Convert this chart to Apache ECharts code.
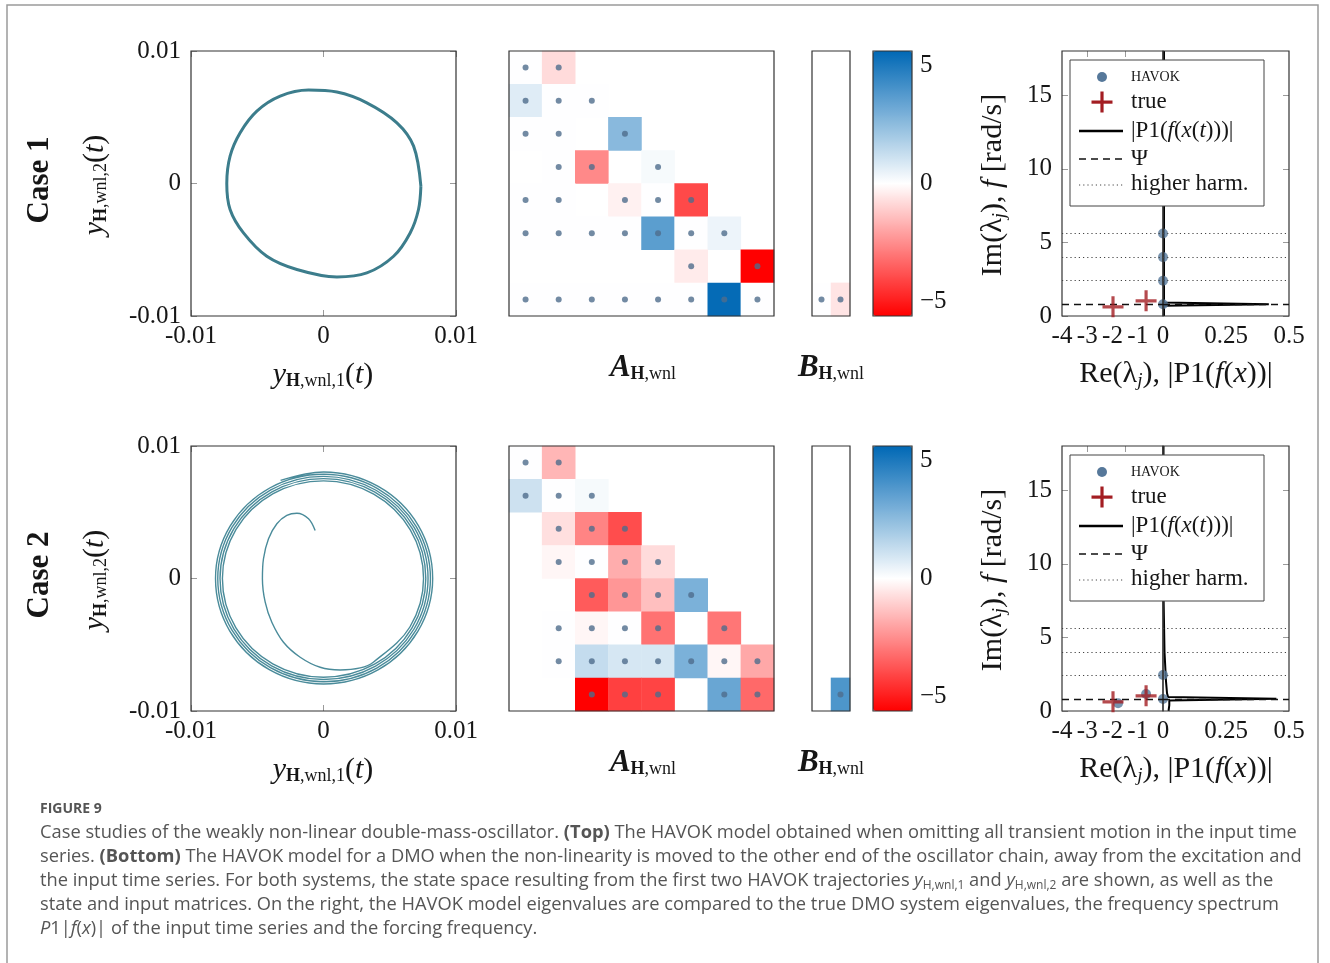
<!DOCTYPE html>
<html><head><meta charset="utf-8">
<script src="https://cdn.jsdelivr.net/npm/echarts@6/dist/echarts.min.js"></script>
<style>html,body{margin:0;padding:0;background:#fff;}#chart{width:1330px;height:963px;}</style>
</head><body><div id="chart"></div>
<script>
// ================= DATA =================
// Phase-space trajectories (units of 1e-3)
const case1X = [7.35, 6.80, 5.54, 3.27, 1.01, -1.13, -3.27, -5.03, -6.29, -7.05, -7.30, -7.05, -6.04, -4.28, -2.01, 1.01, 3.27, 5.29, 6.54, 7.17, 7.35];
const case1Y = [-0.20, 2.82, 4.58, 6.09, 6.90, 7.05, 6.59, 5.46, 3.83, 2.06, 0.00, -1.96, -3.73, -5.49, -6.49, -7.05, -6.75, -5.49, -3.73, -1.96, -0.20];
const case2X = [-0.63,-1.13,-2.01,-2.77,-3.52,-4.15,-4.53,-4.61,-4.40,-3.90,-3.02,-1.76,-0.25,1.26,2.77,
  3.76,6.52,7.55,6.55,3.79,0,-3.80,-6.60,-7.63,-6.62,-3.83,0,
  3.85,6.67,7.72,6.70,3.88,0,-3.89,-6.75,-7.81,-6.77,-3.92,0,
  3.93,6.82,7.89,6.85,3.96,0,-3.98,-6.90,-7.98,-6.92,-4.01,0,
  4.02,6.97,8.07,7.00,4.05,0,-4.06,-7.05,-8.15,-7.07,-4.09,0,
  4.11,7.12,8.24,7.15,4.13,0,-3.24];
const case2Y = [3.62,4.51,4.93,4.76,4.13,3.00,1.49,-0.03,-1.79,-3.30,-4.81,-5.94,-6.70,-6.90,-6.75,
  -6.32,-3.66,0,3.67,6.37,7.37,6.40,3.70,0,-3.71,-6.44,-7.45,
  -6.47,-3.74,0,3.76,6.52,7.54,6.54,3.78,0,-3.80,-6.59,-7.62,
  -6.61,-3.83,0,3.84,6.66,7.71,6.69,3.87,0,-3.88,-6.73,-7.79,
  -6.76,-3.91,0,3.92,6.81,7.87,6.83,3.95,0,-3.97,-6.88,-7.96,
  -6.90,-3.99,0,4.01,6.95,8.04,7.41];
const phaseTickLabels = ['-0.01', '0', '0.01'];

// State matrices A (8x8) and input matrices B (8x2); null = structural zero (no dot)
const A1 = [
  [0.03,-0.8,null,null,null,null,null,null],
  [0.7,0.03,0.03,null,null,null,null,null],
  [0.03,0.03,null,2.6,null,null,null,null],
  [null,0.03,-2.6,null,0.2,null,null,null],
  [0.03,0.03,null,-0.3,0.03,-4.0,null,null],
  [0.03,0.03,0.03,0.03,3.6,0.03,0.4,null],
  [null,null,null,null,null,-0.45,null,-5.6],
  [0.03,0.03,0.03,0.03,0.03,0.03,5.5,0.03]
];
const B1 = [[null,null],[null,null],[null,null],[null,null],[null,null],[null,null],[null,null],[0.03,-0.6]];
const A2 = [
  [0.03,-1.6,null,null,null,null,null,null],
  [1.1,0.03,0.2,null,null,null,null,null],
  [null,-0.7,-2.7,-3.9,null,null,null,null],
  [null,-0.2,0.03,-1.8,-0.8,null,null,null],
  [null,null,-3.6,-2.3,-1.4,2.9,null,null],
  [null,0.03,-0.2,0.03,-3.1,null,-3.0,null],
  [null,0.03,1.3,0.9,0.9,2.9,-0.2,-1.9],
  [null,null,-5.6,-4.2,-4.1,null,3.3,-3.3]
];
const B2 = [[null,null],[null,null],[null,null],[null,null],[null,null],[null,null],[null,null],[null,3.9]];
const colorbarTicks = [-5, 0, 5];

// Eigenvalues and spectrum
const havok1Re = [0, 0, 0, 0];
const havok1Im = [5.6, 4.0, 2.4, 0.8];
const havok2Re = [0, 0, -0.67, -1.78];
const havok2Im = [2.45, 0.82, 1.16, 0.53];
const trueRe = [-1.98, -0.67];
const trueIm = [0.62, 1.03];
const psiFreq = 0.8;
const harmonicFreqs = [2.4, 4.0, 5.6];
const spec1Amp  = [0.004, 0.004, 0.42, 0.004, 0.004];
const spec1Freq = [18, 0.92, 0.80, 0.70, 0];
const spec2Amp  = [0.002, 0.002, 0.006, 0.012, 0.016, 0.02, 0.45, 0.025, 0.025, 0.022];
const spec2Freq = [18, 8, 4, 2, 1.2, 0.95, 0.84, 0.72, 0.4, 0];
const imTicks = [0, 5, 10, 15];
const reTopTicks = [-3, -1.5];

// ================= CHART =================
const SERIF = "'Liberation Serif','DejaVu Serif',serif";
const SANS = "'Open Sans','Noto Sans',sans-serif";
const INK = '#161616';
const BOX = '#333333';
const cmap = ['#ff0000', '#ffffff', '#0068b5'];
const PLUS = 'path://M8.5,0H11.5V8.5H20V11.5H11.5V20H8.5V11.5H0V8.5H8.5Z';

const grid = [], xAxis = [], yAxis = [], series = [], visualMap = [], graphic = [];
function G(o){ grid.push(Object.assign({show:true, borderColor:BOX, borderWidth:1.2, backgroundColor:'rgba(0,0,0,0)', z:5}, o)); return grid.length-1; }
function X(o){ xAxis.push(o); return xAxis.length-1; }
function Y(o){ yAxis.push(o); return yAxis.length-1; }
const noLine = {show:false, onZero:false};
const tickStyle = {show:true, inside:true, length:6, lineStyle:{color:'#9a9a9a', width:1}};
const labelFont = {fontFamily:SERIF, fontSize:25, color:INK};
const phaseFmt = v => v < 0 ? phaseTickLabels[0] : (v > 0 ? phaseTickLabels[2] : phaseTickLabels[1]);

function phasePanel(top, xs, ys, width, color){
  const g = G({left:191, top, width:265, height:265});
  const c = {gridIndex:g, type:'value', min:-10, max:10, interval:10, axisLine:noLine, splitLine:{show:false}, axisTick:tickStyle};
  const xb = X(Object.assign({}, c, {position:'bottom', axisLabel:Object.assign({}, labelFont, {margin:8, formatter:phaseFmt})}));
  X(Object.assign({}, c, {position:'top', axisLabel:{show:false}}));
  const yl = Y(Object.assign({}, c, {position:'left', axisLabel:Object.assign({}, labelFont, {margin:10, formatter:phaseFmt})}));
  Y(Object.assign({}, c, {position:'right', axisLabel:{show:false}}));
  series.push({type:'line', xAxisIndex:xb, yAxisIndex:yl, data:xs.map((x,i)=>[x, ys[i]]), smooth:0.35,
    showSymbol:false, symbol:'none', lineStyle:{color, width}, z:3, silent:true});
}

function matrixPanel(top, left, width, M){
  const g = G({left, top, width, height:265});
  const nC = M[0].length;
  const xi = X({gridIndex:g, type:'category', data:Array.from({length:nC}, (_, i)=>String(i+1)), show:false, axisLine:noLine});
  const yi = Y({gridIndex:g, type:'category', data:M.map((_, i)=>String(i+1)), inverse:true, show:false, axisLine:noLine});
  const cells = [], dots = [];
  M.forEach((row, r) => row.forEach((v, c) => { if (v !== null) { cells.push([c, r, v]); dots.push([c, r]); } }));
  series.push({type:'heatmap', xAxisIndex:xi, yAxisIndex:yi, data:cells, itemStyle:{borderWidth:0}, emphasis:{disabled:true}, z:2, silent:true});
  const hi = series.length - 1;
  series.push({type:'scatter', xAxisIndex:xi, yAxisIndex:yi, data:dots, symbolSize:6, itemStyle:{color:'#4f6d8c'}, z:3, silent:true});
  return hi;
}

function colorbar(top, seriesIdx){
  visualMap.push({type:'continuous', min:-5.6, max:5.6, seriesIndex:seriesIdx, inRange:{color:cmap},
    left:873, top, itemWidth:39, itemHeight:265, padding:0, calculable:false, hoverLink:false, text:null, z:4});
  const g = G({left:873, top, width:39, height:265, z:6});
  X({gridIndex:g, type:'value', show:false, min:0, max:1, axisLine:noLine});
  const yc = {gridIndex:g, type:'value', min:-5.6, max:5.6, axisLine:noLine, splitLine:{show:false},
    axisTick:{show:true, inside:true, length:8, customValues:colorbarTicks, lineStyle:{color:'#9a9a9a'}}};
  Y(Object.assign({}, yc, {position:'right', axisLabel:Object.assign({}, labelFont, {margin:8, customValues:colorbarTicks,
    formatter:v => v < 0 ? '\u2212' + Math.abs(v) : String(v)})}));
  Y(Object.assign({}, yc, {position:'left', axisLabel:{show:false}}));
}

function eigenPanel(top, hRe, hIm, spAmp, spFreq){
  const gL = G({left:1062, top, width:101, height:265});
  const gR = G({left:1163, top, width:126, height:265});
  const xc = {type:'value', axisLine:noLine, splitLine:{show:false}, axisTick:{show:false}};
  const xL = X(Object.assign({}, xc, {gridIndex:gL, min:-4, max:0, interval:1, axisLabel:Object.assign({}, labelFont, {fontSize:25, margin:8})}));
  X(Object.assign({}, xc, {gridIndex:gL, min:-4, max:0, position:'top', axisLabel:{show:false},
    axisTick:Object.assign({}, tickStyle, {customValues:reTopTicks})}));
  const xR = X(Object.assign({}, xc, {gridIndex:gR, min:0, max:0.5, interval:0.25, axisLabel:Object.assign({}, labelFont, {fontSize:25, margin:8, formatter:v => v === 0 ? '' : String(v)})}));
  const yc = {type:'value', min:0, max:18, axisLine:noLine, splitLine:{show:false}};
  const yL = Y(Object.assign({}, yc, {gridIndex:gL, position:'left', axisTick:Object.assign({}, tickStyle, {customValues:imTicks}),
    axisLabel:Object.assign({}, labelFont, {fontSize:25, margin:10, customValues:imTicks})}));
  const yR = Y(Object.assign({}, yc, {gridIndex:gR, position:'right', axisTick:Object.assign({}, tickStyle, {customValues:imTicks}), axisLabel:{show:false}}));
  const refLines = harmonicFreqs.map(h => ({yAxis:h, lineStyle:{type:[1.2, 3], color:'#444', width:1}}))
    .concat([{yAxis:psiFreq, lineStyle:{type:[7, 5], color:'#111', width:1.3}}]);
  const mk = {symbol:['none','none'], silent:true, label:{show:false}, data:refLines, animation:false, emphasis:{disabled:true}};
  series.push({type:'line', xAxisIndex:xR, yAxisIndex:yR, data:spAmp.map((a,i)=>[a, spFreq[i]]), showSymbol:false, symbol:'none',
    lineStyle:{color:'#000', width:2}, clip:false, z:3, silent:true, markLine:mk});
  series.push({type:'scatter', xAxisIndex:xL, yAxisIndex:yL, data:hRe.map((r,i)=>[r, hIm[i]]), symbolSize:10,
    itemStyle:{color:'#56789a'}, clip:false, z:4, silent:true, markLine:mk});
  series.push({type:'scatter', xAxisIndex:xL, yAxisIndex:yL, data:trueRe.map((r,i)=>[r, trueIm[i]]), symbol:PLUS, symbolSize:21,
    itemStyle:{color:'#a31d22'}, clip:false, z:5, silent:true});
}

function txt(x, y, text, rich, opts){
  return Object.assign({type:'text', x, y, z:50, silent:true, style:{text, rich, align:'center', verticalAlign:'middle',
    textAlign:'center', textVerticalAlign:'middle'}}, opts || {});
}
const R = (size, extra) => Object.assign({fontFamily:SERIF, fontSize:size, fill:INK}, extra || {});
const SUBPAD = [13, 0, 0, 0];

function legendBox(off){
  const Z = 40;
  const items = [
    {type:'rect', z:Z, shape:{x:1070, y:60+off, width:194, height:146}, style:{fill:'#fff', stroke:'#444', lineWidth:1}},
    {type:'circle', z:Z+1, shape:{cx:1102, cy:77+off, r:5}, style:{fill:'#56789a'}},
    {type:'rect', z:Z+1, shape:{x:1091.5, y:100.5+off, width:21, height:3.2}, style:{fill:'#a31d22'}},
    {type:'rect', z:Z+1, shape:{x:1100.4, y:91.5+off, width:3.2, height:21}, style:{fill:'#a31d22'}},
    {type:'line', z:Z+1, shape:{x1:1079, y1:131+off, x2:1123, y2:131+off}, style:{stroke:'#000', lineWidth:2.5}},
    {type:'line', z:Z+1, shape:{x1:1079, y1:159+off, x2:1123, y2:159+off}, style:{stroke:'#111', lineWidth:1.3, lineDash:[7,5]}},
    {type:'line', z:Z+1, shape:{x1:1079, y1:185+off, x2:1123, y2:185+off}, style:{stroke:'#444', lineWidth:1, lineDash:[1.2,3]}}
  ];
  const L = (y, text, rich) => ({type:'text', z:Z+2, x:1131, y:y+off, style:{text, rich, align:'left', verticalAlign:'middle', textAlign:'left', textVerticalAlign:'middle'}});
  items.push(L(77, '{n|HAVOK}', {n:R(14)}));
  items.push(L(102, '{n|true}', {n:R(23)}));
  items.push(L(131, '{n||P1(}{i|f}{n|(}{i|x}{n|(}{i|t}{n|)))|}', {n:R(23), i:R(23, {fontStyle:'italic'})}));
  items.push(L(159, '{n|\u03A8}', {n:R(23)}));
  items.push(L(184, '{n|higher harm.}', {n:R(23)}));
  items.forEach(it => { it.silent = true; graphic.push(it); });
}

function rowLabels(off, caseName){
  const rich = {n:R(30), i:R(30, {fontStyle:'italic'}), sb:R(18, {fontWeight:'bold', padding:SUBPAD}), s:R(18, {padding:SUBPAD}),
    bi:R(31, {fontStyle:'italic', fontWeight:'bold'}), si:R(19, {fontStyle:'italic', padding:SUBPAD}), b:R(31, {fontWeight:'bold'})};
  graphic.push(txt(40, 180+off, '{b|' + caseName + '}', rich, {rotation:Math.PI/2}));
  graphic.push(txt(95, 185+off, '{i|y}{sb|H}{s|,wnl,2}{n|(}{i|t}{n|)}', rich, {rotation:Math.PI/2}));
  graphic.push(txt(323, 375+off, '{i|y}{sb|H}{s|,wnl,1}{n|(}{i|t}{n|)}', rich));
  graphic.push(txt(643, 368+off, '{bi|A}{sb|H}{s|,wnl}', rich));
  graphic.push(txt(831, 368+off, '{bi|B}{sb|H}{s|,wnl}', rich));
  graphic.push(txt(993, 185+off, '{n|Im(\u03BB}{si|j}{n|), }{i|f}{n| [rad/s]}', rich, {rotation:Math.PI/2}));
  graphic.push(txt(1176, 374+off, '{n|Re(\u03BB}{si|j}{n|), |P1(}{i|f}{n|(}{i|x}{n|))|}', rich));
  legendBox(off);
}

// rows
const rows = [
  {top:51, off:0, name:'Case 1', px:case1X, py:case1Y, lw:3, lc:'#3c7d8c', A:A1, B:B1, hRe:havok1Re, hIm:havok1Im, sa:spec1Amp, sf:spec1Freq},
  {top:446, off:395, name:'Case 2', px:case2X, py:case2Y, lw:1.4, lc:'#4a8b9a', A:A2, B:B2, hRe:havok2Re, hIm:havok2Im, sa:spec2Amp, sf:spec2Freq}
];
rows.forEach(rw => {
  phasePanel(rw.top, rw.px, rw.py, rw.lw, rw.lc);
  const hA = matrixPanel(rw.top, 509, 265, rw.A);
  const hB = matrixPanel(rw.top, 812, 38, rw.B);
  colorbar(rw.top, [hA, hB]);
  eigenPanel(rw.top, rw.hRe, rw.hIm, rw.sa, rw.sf);
  rowLabels(rw.off, rw.name);
});

// frame and caption
graphic.push({type:'rect', z:0, silent:true, shape:{x:7, y:5, width:1311, height:1000}, style:{fill:'none', stroke:'#9a9a9a', lineWidth:1.5}});
const CAP = 18.3;
const capRich = {n:{fontFamily:SANS, fontSize:CAP, fill:'#555'}, b:{fontFamily:SANS, fontSize:CAP, fontWeight:'bold', fill:'#555'},
  i:{fontFamily:SANS, fontSize:CAP, fontStyle:'italic', fill:'#555'}, s:{fontFamily:SANS, fontSize:12, fill:'#555', padding:[9,0,0,0]}};
const capLines = [
  '{n|Case studies of the weakly non-linear double-mass-oscillator. }{b|(Top)}{n| The HAVOK model obtained when omitting all transient motion in the input time}',
  '{n|series. }{b|(Bottom)}{n| The HAVOK model for a DMO when the non-linearity is moved to the other end of the oscillator chain, away from the excitation and}',
  '{n|the input time series. For both systems, the state space resulting from the first two HAVOK trajectories }{i|y}{s|H,wnl,1}{n| and }{i|y}{s|H,wnl,2}{n| are shown, as well as the}',
  '{n|state and input matrices. On the right, the HAVOK model eigenvalues are compared to the true DMO system eigenvalues, the frequency spectrum}',
  '{i|P}{n|1|}{i|f}{n|(}{i|x}{n|)| of the input time series and the forcing frequency.}'
];
graphic.push({type:'text', x:40, y:809, silent:true, style:{text:'FIGURE 9', fontFamily:SANS, fontSize:14, fontWeight:'bold', fill:'#555', align:'left', verticalAlign:'middle', textAlign:'left', textVerticalAlign:'middle'}});
capLines.forEach((t, k) => graphic.push({type:'text', x:40, y:833 + 24*k, silent:true, style:{text:t, rich:capRich, align:'left', verticalAlign:'middle', textAlign:'left', textVerticalAlign:'middle'}}));

const chart = echarts.init(document.getElementById('chart'), null, {renderer:'canvas'});
chart.setOption({animation:false, backgroundColor:'#fff', grid, xAxis, yAxis, series, visualMap, graphic});
</script></body></html>
